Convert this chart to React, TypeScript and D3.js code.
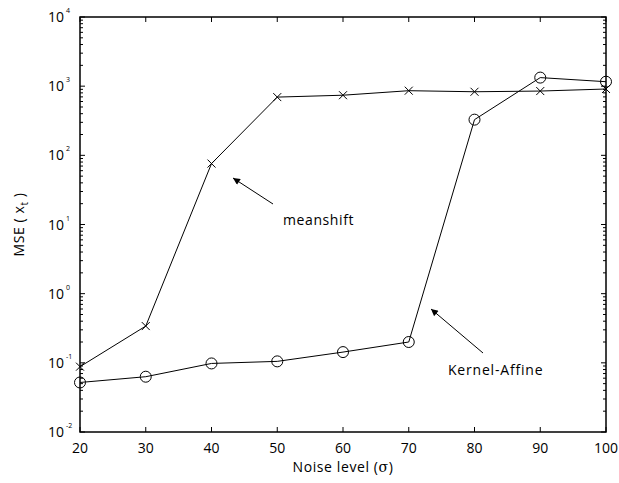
import React from "react";
import { select, scaleLinear, scaleLog, line, range } from "d3";

const noise = [20, 30, 40, 50, 60, 70, 80, 90, 100];
const meanshift = [0.088, 0.34, 76, 695, 740, 860, 830, 850, 910];
const kernelAffine = [0.052, 0.063, 0.098, 0.105, 0.143, 0.2, 328, 1330, 1160];
const xTicks = [20, 30, 40, 50, 60, 70, 80, 90, 100];
const yExponents = [-2, -1, 0, 1, 2, 3, 4];

const W = 619;
const H = 483;
const margin = { top: 17, right: 13, bottom: 51, left: 80 };
const FONT = "'Open Sans', 'DejaVu Sans', sans-serif";

export default function App() {
  const svgRef = React.useRef<SVGSVGElement>(null);

  React.useEffect(() => {
    const svg = select(svgRef.current);
    svg.selectAll("*").remove();

    const x = scaleLinear()
      .domain([20, 100])
      .range([margin.left, W - margin.right]);
    const y = scaleLog()
      .domain([1e-2, 1e4])
      .range([H - margin.bottom, margin.top]);

    const x0 = margin.left;
    const x1 = W - margin.right;
    const y0 = H - margin.bottom;
    const y1 = margin.top;

    // ticks (inward, on all four sides)
    const ticks = svg.append("g").attr("stroke", "#000").attr("stroke-width", 1);
    xTicks.forEach((t) => {
      ticks.append("line").attr("x1", x(t)).attr("x2", x(t)).attr("y1", y0).attr("y2", y0 - 5);
      ticks.append("line").attr("x1", x(t)).attr("x2", x(t)).attr("y1", y1).attr("y2", y1 + 5);
    });
    yExponents.forEach((e) => {
      const yy = y(Math.pow(10, e));
      ticks.append("line").attr("x1", x0).attr("x2", x0 + 5).attr("y1", yy).attr("y2", yy);
      ticks.append("line").attr("x1", x1).attr("x2", x1 - 5).attr("y1", yy).attr("y2", yy);
      if (e < 4) {
        range(2, 10).forEach((m) => {
          const ym = y(m * Math.pow(10, e));
          ticks.append("line").attr("x1", x0).attr("x2", x0 + 3).attr("y1", ym).attr("y2", ym);
          ticks.append("line").attr("x1", x1).attr("x2", x1 - 3).attr("y1", ym).attr("y2", ym);
        });
      }
    });

    // frame
    svg
      .append("rect")
      .attr("x", x0)
      .attr("y", y1)
      .attr("width", x1 - x0)
      .attr("height", y0 - y1)
      .attr("fill", "none")
      .attr("stroke", "#000")
      .attr("stroke-width", 1.5);

    // tick labels
    svg
      .append("g")
      .selectAll("text")
      .data(xTicks)
      .join("text")
      .attr("x", (d) => x(d))
      .attr("y", y0 + 21)
      .attr("text-anchor", "middle")
      .attr("font-family", FONT)
      .attr("font-size", 14)
      .text((d) => d);

    const yl = svg.append("g").attr("font-family", FONT);
    yExponents.forEach((e) => {
      const yy = y(Math.pow(10, e));
      yl.append("text")
        .attr("x", x0 - 16)
        .attr("y", yy + 5)
        .attr("text-anchor", "end")
        .attr("font-size", 14)
        .text("10");
      yl.append("text")
        .attr("x", x0 - 14)
        .attr("y", yy - 4)
        .attr("font-size", 7)
        .text(String(e));
    });

    // axis labels
    const xl = svg
      .append("text")
      .attr("x", (x0 + x1) / 2)
      .attr("y", H - 11)
      .attr("text-anchor", "middle")
      .attr("font-family", FONT)
      .attr("font-size", 14)
      .attr("letter-spacing", 0.6);
    xl.append("tspan").text("Noise level (");
    xl.append("tspan").attr("font-family", "'DejaVu Serif', serif").text("σ");
    xl.append("tspan").text(")");

    const ylab = svg
      .append("text")
      .attr("transform", `translate(24,${(y0 + y1) / 2}) rotate(-90)`)
      .attr("text-anchor", "middle")
      .attr("font-family", FONT)
      .attr("font-size", 14)
      .attr("letter-spacing", 0.6);
    ylab.append("tspan").text("MSE ( x");
    ylab.append("tspan").attr("font-size", 10).attr("dy", 4).text("t");
    ylab.append("tspan").attr("dy", -4).text(" )");

    // series
    const mk = (vals: number[]) =>
      line<number>()
        .x((_, i) => x(noise[i]))
        .y((d) => y(d))(vals);

    svg
      .append("path")
      .attr("d", mk(meanshift))
      .attr("fill", "none")
      .attr("stroke", "#000")
      .attr("stroke-width", 1);
    svg
      .append("path")
      .attr("d", mk(kernelAffine))
      .attr("fill", "none")
      .attr("stroke", "#000")
      .attr("stroke-width", 1);

    const s = 4;
    svg
      .append("g")
      .selectAll("path")
      .data(meanshift)
      .join("path")
      .attr("d", (d, i) => {
        const cx = x(noise[i]);
        const cy = y(d);
        return `M${cx - s},${cy - s}L${cx + s},${cy + s}M${cx - s},${cy + s}L${cx + s},${cy - s}`;
      })
      .attr("stroke", "#000")
      .attr("stroke-width", 1);

    svg
      .append("g")
      .selectAll("circle")
      .data(kernelAffine)
      .join("circle")
      .attr("cx", (_, i) => x(noise[i]))
      .attr("cy", (d) => y(d))
      .attr("r", 5.5)
      .attr("fill", "none")
      .attr("stroke", "#000")
      .attr("stroke-width", 1);

    // annotations
    const defs = svg.append("defs");
    defs
      .append("marker")
      .attr("id", "ah")
      .attr("viewBox", "0 0 10 10")
      .attr("refX", 10)
      .attr("refY", 5)
      .attr("markerWidth", 9)
      .attr("markerHeight", 7)
      .attr("markerUnits", "userSpaceOnUse")
      .attr("orient", "auto")
      .append("path")
      .attr("d", "M0,0L10,5L0,10Z")
      .attr("fill", "#000");

    const arrows = [
      { from: [273, 204], to: [233, 178] },
      { from: [483, 353], to: [431, 309] },
    ];
    arrows.forEach((a) => {
      svg
        .append("line")
        .attr("x1", a.from[0])
        .attr("y1", a.from[1])
        .attr("x2", a.to[0])
        .attr("y2", a.to[1])
        .attr("stroke", "#000")
        .attr("stroke-width", 1)
        .attr("marker-end", "url(#ah)");
    });

    svg
      .append("text")
      .attr("x", 283)
      .attr("y", 225)
      .attr("font-family", FONT)
      .attr("font-size", 14)
      .attr("letter-spacing", 0.6)
      .text("meanshift");
    svg
      .append("text")
      .attr("x", 448)
      .attr("y", 375)
      .attr("font-family", FONT)
      .attr("font-size", 14)
      .attr("letter-spacing", 0.8)
      .text("Kernel-Affine");
  }, []);

  return (
    <svg
      ref={svgRef}
      width={W}
      height={H}
      style={{ position: "absolute", left: 0, top: 0, background: "#fff" }}
    />
  );
}
